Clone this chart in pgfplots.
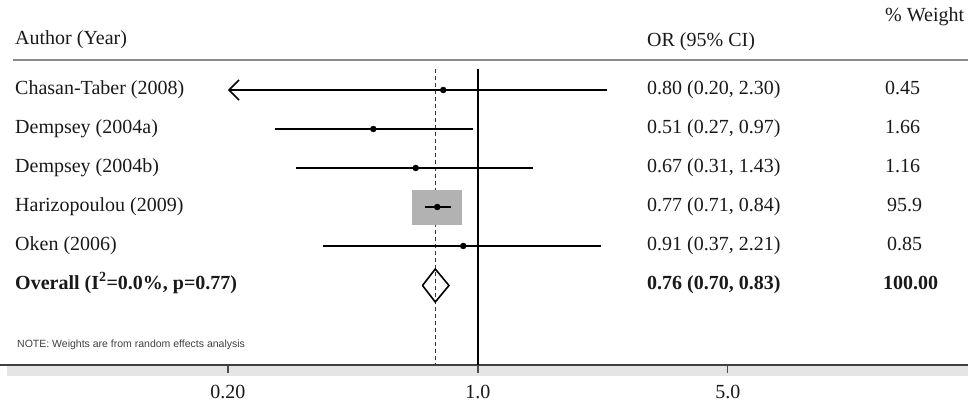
\documentclass[border=0pt]{standalone}
\usepackage{pgfplots}
\pgfplotsset{compat=1.18}
\usepackage{fontspec}
\setmainfont{Liberation Serif}
\newfontfamily\notefont{Liberation Sans}
\usetikzlibrary{arrows.meta}

\begin{document}
\begin{tikzpicture}[x=1pt,y=1pt,
  lbl/.style={anchor=west, inner sep=0pt, text=black!90,
    font=\fontsize{20}{24}\selectfont, text height=14pt, text depth=5pt},
  ci/.style={black, line width=1.6pt}]
\useasboundingbox (0,-41) rectangle (968,365);
% light band under the axis line
\fill[black!10] (7,-1) rectangle (968,-11);
\begin{axis}[
  at={(0,0)}, anchor=south west,
  width=968pt, height=365pt, scale only axis,
  xmode=log, xmin=0.0461, xmax=23.46,
  ymin=-365, ymax=0,
  clip=false,
  axis x line*=bottom, hide y axis,
  xtick={0.2,1,5}, xticklabels={0.20,1.0,5.0},
  xminorticks=false,
  tick align=outside, major tick length=8pt,
  x axis line style={black!75, line width=1.5pt},
  xtick style={black!70, line width=1.2pt},
  xticklabel style={font=\fontsize{20}{24}\selectfont, text=black!90, yshift=-9pt},
  /pgf/number format/assume math mode=true,
]
% null line and pooled estimate line
\addplot[black, line width=1.8pt] coordinates {(1,-69) (1,-365)};
\addplot[black!80, line width=1.2pt, dash pattern=on 4pt off 3pt] coordinates {(0.76,-69) (0.76,-365)};

% weight box of the dominant study, centred on OR = 0.77
\addplot[fill=black!30, draw=none] coordinates {
  (0.6554,-190) (0.9046,-190) (0.9046,-225) (0.6554,-225)} -- cycle;

% study confidence intervals
\addplot[ci, {Straight Barb[length=10pt,width=20pt]}-] coordinates {(0.20,-90) (2.30,-90)};
\addplot[ci] coordinates {(0.27,-129) (0.97,-129)};
\addplot[ci] coordinates {(0.31,-168) (1.43,-168)};
\addplot[ci] coordinates {(0.71,-207) (0.84,-207)};
\addplot[ci] coordinates {(0.37,-246) (2.21,-246)};

% point estimates
\addplot[only marks, mark=*, mark size=3pt, black] coordinates {
  (0.80,-90) (0.51,-129) (0.67,-168) (0.77,-207) (0.91,-246)};

% overall estimate diamond
\addplot[black, line width=1.6pt, line join=miter] coordinates {
  (0.70,-285.5) (0.76,-269) (0.83,-285.5) (0.76,-302) (0.70,-285.5)};
\end{axis}

% header rule
\draw[black!45, line width=1.5pt] (13,305) -- (968,305);

% column headers
\node[lbl] at (15,325) {Author (Year)};
\node[lbl] at (647,323) {OR (95\% CI)};
\node[lbl] at (885,348) {\% Weight};

% study rows
\node[lbl] at (15,275) {Chasan-Taber (2008)};
\node[lbl] at (15,236) {Dempsey (2004a)};
\node[lbl] at (15,197) {Dempsey (2004b)};
\node[lbl] at (15,158) {Harizopoulou (2009)};
\node[lbl] at (15,119) {Oken (2006)};
\node[lbl, font=\fontsize{20}{24}\selectfont\bfseries] at (15,80) {Overall (I\textsuperscript{2}=0.0\%, p=0.77)};

\node[lbl] at (647,275) {0.80 (0.20, 2.30)};
\node[lbl] at (647,236) {0.51 (0.27, 0.97)};
\node[lbl] at (647,197) {0.67 (0.31, 1.43)};
\node[lbl] at (647,158) {0.77 (0.71, 0.84)};
\node[lbl] at (647,119) {0.91 (0.37, 2.21)};
\node[lbl, font=\fontsize{20}{24}\selectfont\bfseries] at (647,80) {0.76 (0.70, 0.83)};

\node[lbl] at (885,275) {0.45};
\node[lbl] at (885,236) {1.66};
\node[lbl] at (885,197) {1.16};
\node[lbl] at (887,158) {95.9};
\node[lbl] at (887,119) {0.85};
\node[lbl, font=\fontsize{20}{24}\selectfont\bfseries] at (883,80) {100.00};

% footnote
\node[anchor=west, inner sep=0pt, text=black!75, font=\notefont\fontsize{10.5}{12}\selectfont]
  at (17,20) {NOTE: Weights are from random effects analysis};
\end{tikzpicture}
\end{document}
